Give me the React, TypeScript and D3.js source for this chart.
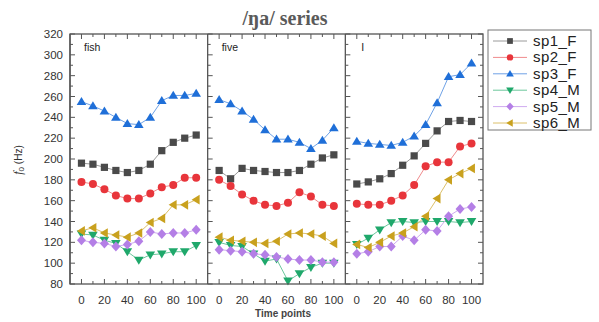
import * as d3 from "d3";
import React from "react";

const W = 599;
const H = 322;

const panelNames = ["fish", "five", "I"];
const timePoints = [0, 10, 20, 30, 40, 50, 60, 70, 80, 90, 100];
const xTickLabels = [0, 20, 40, 60, 80, 100];
const yTickLabels = [80, 100, 120, 140, 160, 180, 200, 220, 240, 260, 280, 300, 320];

const seriesNames = ["sp1_F", "sp2_F", "sp3_F", "sp4_M", "sp5_M", "sp6_M"];
const seriesColors = ["#4a4a4a", "#e8353b", "#1f6fd8", "#1fa86b", "#b47fe6", "#c9a11e"];
const lineColors = ["#9a9a9a", "#f08a8c", "#6fa2e6", "#6cc79c", "#cfaaf0", "#dcc06a"];
const markerTypes = ["square", "circle", "up", "down", "diamond", "left"];

// values per panel: fish, five, I
const sp1 = [
  [196, 195, 192, 189, 187, 189, 195, 208, 216, 220, 223],
  [189, 181, 191, 189, 188, 187, 187, 189, 195, 201, 204],
  [176, 178, 181, 186, 194, 203, 215, 227, 236, 237, 236],
];
const sp2 = [
  [178, 176, 171, 165, 162, 162, 167, 173, 175, 182, 182],
  [180, 174, 166, 160, 156, 155, 158, 168, 164, 156, 155],
  [157, 156, 156, 160, 165, 175, 193, 197, 197, 212, 215],
];
const sp3 = [
  [255, 251, 246, 240, 234, 233, 240, 256, 261, 261, 263],
  [257, 253, 246, 238, 228, 219, 219, 216, 210, 218, 230],
  [217, 215, 214, 213, 216, 222, 233, 254, 279, 281, 292],
];
const sp4 = [
  [128, 127, 122, 119, 111, 103, 108, 109, 111, 111, 117],
  [120, 117, 116, 109, 102, 104, 83, 90, 96, 100, 100],
  [118, 124, 132, 139, 140, 139, 140, 140, 140, 139, 140],
];
const sp5 = [
  [122, 120, 119, 116, 118, 121, 130, 128, 129, 129, 132],
  [113, 112, 111, 109, 108, 106, 104, 103, 103, 101, 101],
  [109, 111, 116, 116, 126, 122, 132, 131, 145, 152, 154],
];
const sp6 = [
  [131, 134, 129, 127, 125, 129, 139, 143, 156, 156, 161],
  [125, 122, 121, 120, 119, 121, 128, 129, 128, 126, 119],
  [118, 115, 120, 126, 129, 135, 145, 162, 180, 186, 191],
];
const allSeries = [sp1, sp2, sp3, sp4, sp5, sp6];

const left = 70;
const right = 483;
const top = 34;
const bottom = 284;
const panelW = (right - left) / 3;

const y = d3.scaleLinear().domain([80, 320]).range([bottom, top]);

function Marker({ type, x, y: cy, color, k = 1 }: { type: string; x: number; y: number; color: string; k?: number }) {
  const s = 4 * k;
  if (type === "square") return <rect x={x - 3.6 * k} y={cy - 3.6 * k} width={7.2 * k} height={7.2 * k} fill={color} />;
  if (type === "circle") return <circle cx={x} cy={cy} r={4 * k} fill={color} />;
  let pts: number[][] = [];
  if (type === "up") pts = [[x, cy - 4.6 * k], [x + 4.8 * k, cy + 3.4 * k], [x - 4.8 * k, cy + 3.4 * k]];
  if (type === "down") pts = [[x, cy + 4.6 * k], [x + 4.8 * k, cy - 3.4 * k], [x - 4.8 * k, cy - 3.4 * k]];
  if (type === "left") pts = [[x - 4.6 * k, cy], [x + 3.4 * k, cy - 4.8 * k], [x + 3.4 * k, cy + 4.8 * k]];
  if (type === "diamond") pts = [[x, cy - 5 * k], [x + s + 0.5, cy], [x, cy + 5 * k], [x - s - 0.5, cy]];
  return <polygon points={pts.map((p) => p.join(",")).join(" ")} fill={color} />;
}

export default function App() {
  const axisColor = "#555";
  const textColor = "#333";
  const font = "Liberation Sans, Arial, sans-serif";
  const yMinor = d3.range(80, 321, 10);

  return (
    <svg width={W} height={H} style={{ position: "absolute", left: 0, top: 0, background: "#fff" }}>
      <text x={285} y={25} textAnchor="middle" fontFamily="Liberation Serif, serif" fontWeight="bold" fontSize={20} fill="#5a5a5a">
        /ŋa/ series
      </text>

      {/* y tick labels */}
      {yTickLabels.map((v) => (
        <text key={v} x={63} y={y(v) + 4} textAnchor="end" fontFamily={font} fontSize={11.5} fill={textColor}>
          {v}
        </text>
      ))}
      <text transform={`translate(22, 160) rotate(-90)`} textAnchor="middle" fontFamily={font} fontSize={10} fill={textColor}>
        <tspan fontStyle="italic" fontFamily="Liberation Serif, serif" fontSize={12}>f</tspan>
        <tspan fontSize={8} dy={2}>0</tspan>
        <tspan dy={-2}> (Hz)</tspan>
      </text>

      {panelNames.map((name, p) => {
        const x0 = left + p * panelW;
        const x = d3.scaleLinear().domain([-10, 110]).range([x0, x0 + panelW]);
        const xMinor = d3.range(0, 101, 10);
        const line = d3
          .line<number>()
          .x((_, i) => x(timePoints[i]))
          .y((d) => y(d));
        return (
          <g key={name}>
            {/* ticks */}
            {xMinor.map((t) => {
              const len = t % 20 === 0 ? 5 : 3;
              return (
                <g key={t}>
                  <line x1={x(t)} x2={x(t)} y1={bottom} y2={bottom - len} stroke={axisColor} />
                  <line x1={x(t)} x2={x(t)} y1={top} y2={top + len} stroke={axisColor} />
                </g>
              );
            })}
            {yMinor.map((v) => {
              const len = v % 20 === 0 ? 5 : 3;
              return (
                <g key={v}>
                  <line x1={x0} x2={x0 + len} y1={y(v)} y2={y(v)} stroke={axisColor} />
                  {p === 2 && <line x1={right} x2={right - len} y1={y(v)} y2={y(v)} stroke={axisColor} />}
                </g>
              );
            })}
            {xTickLabels.map((t) => (
              <text key={t} x={x(t)} y={304} textAnchor="middle" fontFamily={font} fontSize={11.5} fill={textColor}>
                {t}
              </text>
            ))}
            <text x={x0 + (p === 2 ? 16 : 14)} y={51} fontFamily={font} fontSize={10.5} fill="#222">
              {name}
            </text>
            {allSeries.map((s, k) => (
              <path key={k} d={line(s[p]) || ""} fill="none" stroke={lineColors[k]} strokeWidth={1} />
            ))}
            {allSeries.map((s, k) =>
              s[p].map((v, i) => (
                <Marker key={`${k}-${i}`} type={markerTypes[k]} x={x(timePoints[i])} y={y(v)} color={seriesColors[k]} />
              ))
            )}
            <line x1={x0} x2={x0} y1={top} y2={bottom} stroke={axisColor} strokeWidth={1.3} />
          </g>
        );
      })}

      <rect x={left} y={top} width={right - left} height={bottom - top} fill="none" stroke={axisColor} strokeWidth={1.3} />

      <text x={283} y={317} textAnchor="middle" fontFamily={font} fontSize={10} fontWeight="bold" fill="#444">
        Time points
      </text>

      {/* legend */}
      <rect x={488} y={30} width={103} height={100} fill="#fff" stroke="#777" strokeWidth={1} />
      {seriesNames.map((n, k) => {
        const ly = 41 + k * 16.4;
        return (
          <g key={n}>
            <line x1={493} x2={527} y1={ly} y2={ly} stroke={lineColors[k]} />
            <Marker type={markerTypes[k]} x={510} y={ly} color={seriesColors[k]} k={0.8} />
            <text x={533} y={ly + 5} fontFamily={font} fontSize={15} letterSpacing={0.4} fill="#222">
              {n}
            </text>
          </g>
        );
      })}
    </svg>
  );
}
